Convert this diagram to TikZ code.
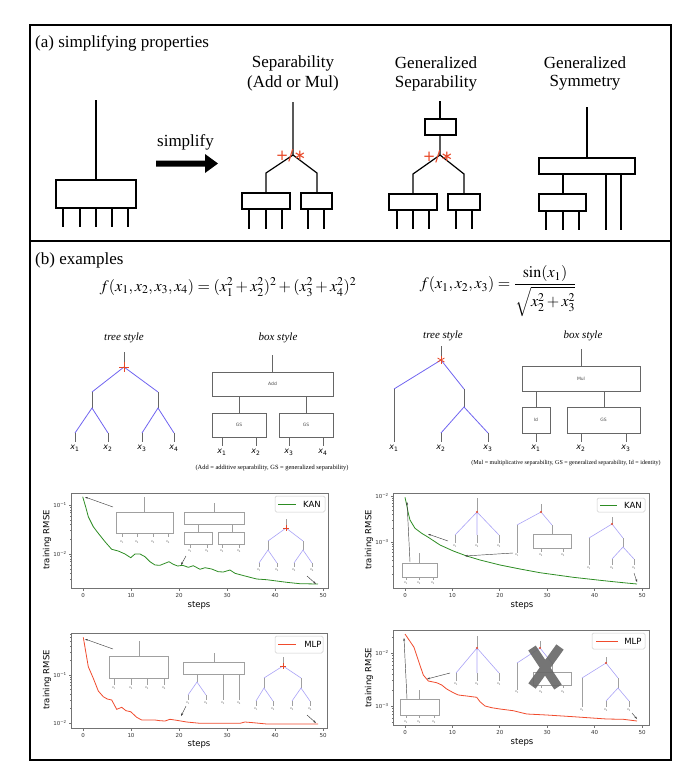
\documentclass[tikz,border=0pt]{standalone}
\usepackage{mathptmx}
\usepackage[no-math]{fontspec}
\setmainfont{Liberation Serif}
\newfontfamily\plotfont{DejaVu Sans}
\usetikzlibrary{arrows.meta}
\definecolor{starred}{RGB}{232,72,40}
\definecolor{treeblue}{RGB}{112,100,240}
\definecolor{kangreen}{RGB}{45,140,35}
\definecolor{mlpred}{RGB}{240,75,45}
\definecolor{axgray}{RGB}{115,115,115}
\definecolor{insgray}{RGB}{160,160,160}
\definecolor{crossgray}{RGB}{105,105,105}
\newcommand{\xs}[1]{\textit{x}\textsubscript{#1}}
\newcommand{\mone}{\char"2212\relax}
\begin{document}
\begin{tikzpicture}[x=1pt,y=-1pt,every node/.style={inner sep=0pt},
  frame/.style={line width=1.1pt},
  thk/.style={line width=1.2pt},
  ttl/.style={font=\fontsize{17}{17}\selectfont},
  gl/.style={black!60,line width=0.8pt},
  bl/.style={treeblue,line width=0.8pt},
  ig/.style={insgray,line width=0.6pt},
  ib/.style={treeblue!60,line width=0.6pt},
  xl/.style={font=\plotfont\fontsize{8}{8}\selectfont},
  tiny/.style={font=\plotfont\fontsize{3.2}{3.2}\selectfont,black!60},
  boxt/.style={font=\plotfont\fontsize{4.5}{4.5}\selectfont,black!70},
  axc/.style={axgray,line width=0.7pt},
  tick/.style={font=\plotfont\fontsize{5.5}{5.5}\selectfont,black!80},
  lab/.style={font=\plotfont\fontsize{8.5}{8.5}\selectfont},
  legbox/.style={draw=black!20,fill=white,rounded corners=1.5pt,line width=0.5pt},
  pt/.style={-{Stealth[length=3pt,width=2pt]},black!75,line width=0.45pt}]
\useasboundingbox (0,0) rectangle (684,769);

% panels
\draw[frame] (30,25) rectangle (671,241);
\draw[frame] (30,241) rectangle (671,760);
\node[ttl,anchor=west] (tita) at (35,43) {(a) simplifying properties};
\node[ttl,anchor=west] (titb) at (35,260) {(b) examples};

% (a) original
\draw[thk] (96,100) -- (96,180);
\draw[thk] (56,180) rectangle (136,208);
\foreach \x in {63,80,96,112,128} \draw[thk] (\x,208) -- (\x,227);
\node[ttl] (simp) at (185.5,142) {simplify};
\fill (156,160.5) -- (205,160.5) -- (205,154) -- (218,163.5) -- (205,173) -- (205,166.5) -- (156,166.5) -- cycle;

% (a) separability
\node[ttl] (sepa) at (293,63) {Separability};
\node[ttl] (sepb) at (293,83) {(Add or Mul)};
\draw[thk] (293,102) -- (293,155) -- (266,173) -- (266,193);
\draw[thk] (293,155) -- (317,173) -- (317,193);
\draw[thk] (242,193) rectangle (290,209);
\draw[thk] (301,193) rectangle (332,209);
\foreach \x in {249,266,282,308,324} \draw[thk] (\x,209) -- (\x,229);
\node[starred,font=\plotfont\fontsize{15}{15}\selectfont] (opa) at (291,156) {+/\char"2217};

% (a) generalized separability
\node[ttl] (gsa) at (436,63) {Generalized};
\node[ttl] (gsb) at (436,83) {Separability};
\draw[thk] (440,101) -- (440,119);
\draw[thk] (425,119) rectangle (456,135);
\draw[thk] (440,135) -- (440,155) -- (413,174) -- (413,194);
\draw[thk] (440,155) -- (464,174) -- (464,194);
\draw[thk] (389,194) rectangle (437,210);
\draw[thk] (448,194) rectangle (480,210);
\foreach \x in {397,413,429,456,472} \draw[thk] (\x,210) -- (\x,229);
\node[starred,font=\plotfont\fontsize{15}{15}\selectfont] (opb) at (438,157) {+/\char"2217};

% (a) generalized symmetry
\node[ttl] (gya) at (585,63) {Generalized};
\node[ttl] (gyb) at (585,83) {Symmetry};
\draw[thk] (587,107) -- (587,158);
\draw[thk] (539,158) rectangle (635,174);
\draw[thk] (563,174) -- (563,194);
\draw[thk] (539,194) rectangle (586,211);
\foreach \x in {546,563,579} \draw[thk] (\x,211) -- (\x,230);
\foreach \x in {606,621} \draw[thk] (\x,174) -- (\x,230);

% (b) formulas
\node[font=\fontsize{16}{16}\selectfont] (eqa) at (228,287) {$f(x_1,x_2,x_3,x_4)=(x_1^2+x_2^2)^2+(x_3^2+x_4^2)^2$};
\node[font=\fontsize{16}{16}\selectfont] (eqb) at (498,291) {$\displaystyle f(x_1,x_2,x_3)=\frac{\sin(x_1)}{\sqrt{x_2^2+x_3^2}}$};

% (b) first example
\node[font=\itshape\fontsize{11}{11}\selectfont] (tsa) at (124,338) {tree style};
\node[font=\itshape\fontsize{11}{11}\selectfont] (bsa) at (278,338) {box style};
\draw[gl] (124,352) -- (124,367);
\draw[bl] (92,392) -- (124,367) -- (158,392);
\draw[gl] (92,392) -- (92,408) (158,392) -- (158,408);
\draw[bl] (75,433) -- (92,408) -- (108,433);
\draw[bl] (142,433) -- (158,408) -- (174,433);
\draw[starred,line width=0.9pt] (119,367) -- (129,367) (124,362) -- (124,372);
\foreach \x/\i in {75/1,108/2,142/3,174/4} {
  \draw[gl] (\x,433) -- (\x,442);
  \node[xl] (ta\i) at (\x,448) {\xs{\i}};
}
\draw[gl] (272,355) -- (272,372);
\draw[gl] (212,372) rectangle (333,396);
\node[boxt] (add) at (272.5,384) {Add};
\draw[gl] (239,396) -- (239,413) (306,396) -- (306,413);
\draw[gl] (212,413) rectangle (266,437);
\draw[gl] (279,413) rectangle (333,437);
\node[boxt] (gsl) at (239,425) {GS};
\node[boxt] (gsr) at (306,425) {GS};
\foreach \x/\i in {222/1,256/2,289/3,323/4} {
  \draw[gl] (\x,437) -- (\x,446);
  \node[xl] (ba\i) at (\x,452) {\xs{\i}};
}
\node[font=\fontsize{6.4}{6.4}\selectfont] (capa) at (272,468) {(Add = additive separability, GS = generalized separability)};

% (b) second example
\node[font=\itshape\fontsize{11}{11}\selectfont] (tsb) at (443,336) {tree style};
\node[font=\itshape\fontsize{11}{11}\selectfont] (bsb) at (583,336) {box style};
\draw[gl] (441,346) -- (441,360);
\draw[bl] (394,389) -- (441,360) -- (464,389);
\draw[gl] (394,389) -- (394,442) (464,389) -- (464,407);
\draw[bl] (441,433) -- (464,407) -- (488,433);
\draw[gl] (441,433) -- (441,442) (488,433) -- (488,442);
\foreach \a in {90,30,150} \draw[starred,line width=0.8pt] (441,360) ++(\a:4) -- ++(\a+180:8);
\foreach \x/\i in {394/1,441/2,488/3} \node[xl] (tb\i) at (\x,448) {\xs{\i}};
\draw[gl] (581,349) -- (581,366);
\draw[gl] (522,366) rectangle (640,391);
\node[boxt] (mul) at (581,378.5) {Mul};
\draw[gl] (536,391) -- (536,407) (604,391) -- (604,407);
\draw[gl] (522,407) rectangle (550,433);
\draw[gl] (567,407) rectangle (640,433);
\node[boxt] (idb) at (536,420) {Id};
\node[boxt] (gsb2) at (603.5,420) {GS};
\foreach \x/\i in {536/1,581/2,626/3} {
  \draw[gl] (\x,433) -- (\x,442);
  \node[xl] (bb\i) at (\x,448) {\xs{\i}};
}
\node[font=\fontsize{6}{6}\selectfont] (capb) at (566,463) {(Mul = multiplicative separability, GS = generalized separability, Id = identity)};

% ---------- plot 1: KAN, first example
\draw[axc] (71,493) rectangle (328,588);
\foreach \k in {0,10,...,50} {
  \draw[axc] ({83+4.8*\k},588) -- ++(0,2.5);
  \node[tick] at ({83+4.8*\k},595) {\k};
}
\draw[axc] (71,505) -- ++(-2.5,0) (71,554) -- ++(-2.5,0);
\foreach \m in {2,...,9} \draw[axc,line width=0.5pt] (71,{554-49*log10(\m)}) -- ++(-1.5,0);
\foreach \m in {3,...,9} \draw[axc,line width=0.5pt] (71,{603-49*log10(\m)}) -- ++(-1.5,0);
\node[tick,anchor=east] (ya1) at (67,505) {10\textsuperscript{\mone1}};
\node[tick,anchor=east] (yb1) at (67,554) {10\textsuperscript{\mone2}};
\node[lab] (st1) at (199,605) {steps};
\node[lab,rotate=90] (rm1) at (47,540) {training RMSE};
\draw[kangreen,line width=0.8pt] plot coordinates {(82.7,496.7) (86,508) (88.3,516.7) (93.3,526.7) (98.3,533.3) (105,541.7) (111.7,549.3) (118.3,551) (125,554) (130.7,557.7) (135,554) (140,554) (145,556.7) (150,561.7) (155,565) (160,565.3) (165,563.3) (169,561.7) (173.3,564.3) (177.7,566) (182.7,565.3) (188.3,567.3) (193.3,565.7) (200,569.3) (205,567.7) (211.7,569) (218.3,571.7) (223.3,572) (230,570) (235,573.3) (245,576) (256.7,579) (266.7,579.7) (276.7,581) (286.7,582.3) (300,583.7) (318,584)};
\draw[legbox] (275,496) rectangle (325,512);
\draw[kangreen,line width=0.9pt] (278,504) -- (296,504);
\node[lab] (lg1) at (312,504) {KAN};
% insets
\draw[ig] (144,497) -- (144,512);
\draw[ig] (116,512) rectangle (173,533);
\foreach \x/\i in {122/1,137/2,153/3,168/4} {\draw[ig] (\x,533) -- (\x,537); \node[tiny] at (\x,542) {\xs{\i}};}
\draw[ig] (214,503) -- (214,512);
\draw[ig] (184,512) rectangle (244,524);
\draw[ig] (198,524) -- (198,532) (232,524) -- (232,532);
\draw[ig] (184,532) rectangle (212,544);
\draw[ig] (218,532) rectangle (244,544);
\foreach \x/\i in {190/1,207/2,222/3,239/4} {\draw[ig] (\x,544) -- (\x,548); \node[tiny] at (\x,551) {\xs{\i}};}
\draw[ig] (286,519) -- (286,528);
\draw[ib] (268,541) -- (286,528) -- (303,541);
\draw[ig] (268,541) -- (268,550) (303,541) -- (303,550);
\draw[ib] (259,563) -- (268,550) -- (277,563);
\draw[ib] (294,563) -- (303,550) -- (312,563);
\draw[starred,line width=0.5pt] (283,528) -- (289,528) (286,525) -- (286,531);
\foreach \x/\i in {259/1,277/2,294/3,312/4} {\draw[ig] (\x,563) -- (\x,567); \node[tiny] at (\x,570) {\xs{\i}};}
\coordinate (c1a) at (85,497); \coordinate (c1b) at (181,565); \coordinate (c1c) at (316,584);
\draw[pt] (113,507) -- (c1a);
\draw[pt] (186,556) -- (c1b);
\draw[pt] (307,576) -- (c1c);

% ---------- plot 2: KAN, second example
\draw[axc] (393,493) rectangle (649,588);
\foreach \k in {0,10,...,50} {
  \draw[axc] ({405+4.74*\k},588) -- ++(0,2.5);
  \node[tick] at ({405+4.74*\k},595) {\k};
}
\draw[axc] (393,496) -- ++(-2.5,0) (393,542) -- ++(-2.5,0);
\foreach \m in {2,...,9} \draw[axc,line width=0.5pt] (393,{542-46*log10(\m)}) -- ++(-1.5,0) (393,{588-46*log10(\m)}) -- ++(-1.5,0);
\node[tick,anchor=east] (ya2) at (389,496) {10\textsuperscript{\mone2}};
\node[tick,anchor=east] (yb2) at (389,542) {10\textsuperscript{\mone3}};
\node[lab] (st2) at (522,605) {steps};
\node[lab,rotate=90] (rm2) at (369,540) {training RMSE};
\draw[kangreen,line width=0.8pt] plot coordinates {(405,497.3) (406.7,505) (408.3,513.3) (410,520) (415,528.3) (421.7,533.3) (428.3,537.3) (440,545) (453.3,551) (466.7,556) (480,560) (500,565) (520,569) (540,572.7) (573.3,577.3) (606.7,581) (623.3,582.7) (637,584)};
\draw[legbox] (597,498) rectangle (645,512);
\draw[kangreen,line width=0.9pt] (600,505) -- (617,505);
\node[lab] (lg2) at (633,505) {KAN};
% insets
\draw[ig] (419,553) -- (419,563);
\draw[ig] (402,563) rectangle (437,577);
\foreach \x/\i in {406/1,419/2,433/3} {\draw[ig] (\x,577) -- (\x,580); \node[tiny] at (\x,583) {\xs{\i}};}
\draw[ig] (477,498) -- (477,512);
\draw[ib] (455,535) -- (477,512) -- (499,535) (477,512) -- (477,535);
\fill[starred] (477,512) circle (1.2pt);
\foreach \x/\i in {455/1,477/2,499/3} {\draw[ig] (\x,535) -- (\x,543); \node[tiny] at (\x,546) {\xs{\i}};}
\draw[ig] (541,504) -- (541,512);
\draw[ib] (517,525) -- (541,512) -- (552,525);
\fill[starred] (541,512) circle (1.2pt);
\draw[ig] (517,525) -- (517,553) (552,525) -- (552,534);
\draw[ig] (533,534) rectangle (571,548);
\draw[ig] (541,548) -- (541,552) (563,548) -- (563,552);
\foreach \x/\i in {517/1,541/2,563/3} \node[tiny] at (\x,555) {\xs{\i}};
\draw[ig] (612,517) -- (612,524);
\draw[ib] (589,538) -- (612,524) -- (623,538);
\fill[starred] (612,524) circle (1.2pt);
\draw[ig] (589,538) -- (589,565) (623,538) -- (623,547);
\draw[ib] (612,559) -- (623,547) -- (634,559);
\draw[ig] (612,559) -- (612,565) (634,559) -- (634,565);
\foreach \x/\i in {589/1,612/2,634/3} \node[tiny] at (\x,568) {\xs{\i}};
\coordinate (c2a) at (407,502); \coordinate (c2b) at (428,534); \coordinate (c2c) at (465,556); \coordinate (c2d) at (637,582);
\draw[pt] (410,562) -- (c2a);
\draw[pt] (448,541) -- (c2b);
\draw[pt] (513,553) -- (c2c);
\draw[pt] (634,573) -- (c2d);

% ---------- plot 3: MLP, first example
\draw[axc] (71,633) rectangle (327,728);
\foreach \k in {0,10,...,50} {
  \draw[axc] ({83+4.8*\k},728) -- ++(0,2.5);
  \node[tick] at ({83+4.8*\k},735) {\k};
}
\draw[axc] (71,675) -- ++(-2.5,0) (71,723) -- ++(-2.5,0);
\foreach \m in {2,...,9} \draw[axc,line width=0.5pt] (71,{723-48*log10(\m)}) -- ++(-1.5,0);
\foreach \m in {2,...,7} \draw[axc,line width=0.5pt] (71,{675-48*log10(\m)}) -- ++(-1.5,0);
\node[tick,anchor=east] (ya3) at (67,675) {10\textsuperscript{\mone1}};
\node[tick,anchor=east] (yb3) at (67,723) {10\textsuperscript{\mone2}};
\node[lab] (st3) at (199,744) {steps};
\node[lab,rotate=90] (rm3) at (47,680) {training RMSE};
\draw[mlpred,line width=0.8pt] plot coordinates {(83.3,637.3) (86,653.3) (88.3,666.7) (93.3,678.3) (98.3,691) (103.3,696.7) (107.3,699) (111.7,700) (116.7,709.3) (121.7,707.3) (126,710.7) (130.7,711.7) (136.7,717.3) (141.7,720) (155,720) (160,720.7) (165,721) (170,719.3) (176.7,720.3) (186.7,722) (200,723.3) (240,723.3) (245,722) (253.3,722.7) (266.7,724) (318,724)};
\draw[legbox] (275,636) rectangle (323,653);
\draw[mlpred,line width=0.9pt] (278,644.5) -- (296,644.5);
\node[lab] (lg3) at (313,644.5) {MLP};
% insets
\draw[ig] (139,641) -- (139,656);
\draw[ig] (109,656) rectangle (168,678);
\foreach \x/\i in {114/1,131/2,147/3,164/4} {\draw[ig] (\x,678) -- (\x,685); \node[tiny] at (\x,688) {\xs{\i}};}
\draw[ig] (214,653) -- (214,662);
\draw[ig] (183,662) rectangle (244,674);
\draw[ig] (197,674) -- (197,682);
\draw[ib] (188,695) -- (197,682) -- (206,695);
\draw[ig] (188,695) -- (188,700) (206,695) -- (206,700);
\draw[ig] (223,674) -- (223,700) (239,674) -- (239,700);
\foreach \x/\i in {188/1,206/2,223/3,239/4} \node[tiny] at (\x,703) {\xs{\i}};
\draw[ig] (283,657) -- (283,666);
\draw[ib] (264,678) -- (283,666) -- (301,678);
\draw[ig] (264,678) -- (264,688) (301,678) -- (301,688);
\draw[ib] (256,701) -- (264,688) -- (273,701);
\draw[ib] (292,701) -- (301,688) -- (310,701);
\draw[starred,line width=0.5pt] (280,666) -- (286,666) (283,663) -- (283,669);
\foreach \x/\i in {256/1,273/2,292/3,310/4} {\draw[ig] (\x,701) -- (\x,706); \node[tiny] at (\x,709) {\xs{\i}};}
\coordinate (c3a) at (85,639); \coordinate (c3b) at (181,716); \coordinate (c3c) at (316,723);
\draw[pt] (113,649) -- (c3a);
\draw[pt] (186,706) -- (c3b);
\draw[pt] (307,715) -- (c3c);

% ---------- plot 4: MLP, second example
\draw[axc] (393,630) rectangle (649,725);
\foreach \k in {0,10,...,50} {
  \draw[axc] ({405+4.74*\k},725) -- ++(0,2.5);
  \node[tick] at ({405+4.74*\k},732) {\k};
}
\draw[axc] (393,653) -- ++(-2.5,0) (393,706) -- ++(-2.5,0);
\foreach \m in {2,...,9} \draw[axc,line width=0.5pt] (393,{706-53*log10(\m)}) -- ++(-1.5,0);
\foreach \m in {5,...,9} \draw[axc,line width=0.5pt] (393,{759-53*log10(\m)}) -- ++(-1.5,0);
\draw[axc,line width=0.5pt] (393,{653-53*log10(2)}) -- ++(-1.5,0);
\node[tick,anchor=east] (ya4) at (389,653) {10\textsuperscript{\mone2}};
\node[tick,anchor=east] (yb4) at (389,706) {10\textsuperscript{\mone3}};
\node[lab] (st4) at (522,742) {steps};
\node[lab,rotate=90] (rm4) at (369,678) {training RMSE};
\draw[mlpred,line width=0.8pt] plot coordinates {(405,634) (414,647.3) (419.3,663.3) (423.3,675) (428.3,681) (436.7,682.7) (441.7,685) (446.7,689) (453.3,692.7) (458.3,695) (466.7,696) (476.7,697.3) (480,701.7) (485,706) (491.7,707.7) (500,709) (513.3,710.7) (526.7,714) (546.7,715) (573.3,716.7) (606.7,719) (623.3,719.3) (637,721)};
\draw[legbox] (592,633) rectangle (645,649);
\draw[mlpred,line width=0.9pt] (596,641) -- (618,641);
\node[lab] (lg4) at (633,641) {MLP};
% insets
\draw[ig] (419,690) -- (419,699);
\draw[ig] (400,699) rectangle (439,715);
\foreach \x/\i in {406/1,419/2,434/3} {\draw[ig] (\x,715) -- (\x,718); \node[tiny] at (\x,722) {\xs{\i}};}
\draw[ig] (477,636) -- (477,648);
\draw[ib] (456,673) -- (477,648) -- (499,673) (477,648) -- (477,673);
\fill[starred] (477,648) circle (1.2pt);
\foreach \x/\i in {456/1,477/2,499/3} {\draw[ig] (\x,673) -- (\x,681); \node[tiny] at (\x,684) {\xs{\i}};}
\draw[ig] (540,641) -- (540,648);
\draw[ib] (517,663) -- (540,648) -- (552,663);
\fill[starred] (540,648) circle (1.2pt);
\draw[ig] (517,663) -- (517,690) (552,663) -- (552,672);
\draw[ig] (533,672) rectangle (571,685);
\draw[ig] (541,685) -- (541,688) (563,685) -- (563,688);
\foreach \x/\i in {517/1,541/2,563/3} \node[tiny] at (\x,692) {\xs{\i}};
\draw[crossgray,line width=9pt,opacity=0.92] (532,648) -- (558,687) (560,647) -- (532,686);
\draw[ig] (606,657) -- (606,663);
\draw[ib] (582,678) -- (606,663) -- (618,678);
\fill[starred] (606,663) circle (1.2pt);
\draw[ig] (582,678) -- (582,707) (618,678) -- (618,688);
\draw[ib] (606,701) -- (618,688) -- (629,701);
\draw[ig] (606,701) -- (606,707) (629,701) -- (629,707);
\foreach \x/\i in {582/1,606/2,629/3} \node[tiny] at (\x,710) {\xs{\i}};
\coordinate (c4a) at (404,638); \coordinate (c4b) at (427,679); \coordinate (c4c) at (637,719);
\draw[pt] (407,699) -- (c4a);
\draw[pt] (450,673) -- (c4b);
\draw[pt] (632,713) -- (c4c);
\end{tikzpicture}
\end{document}
